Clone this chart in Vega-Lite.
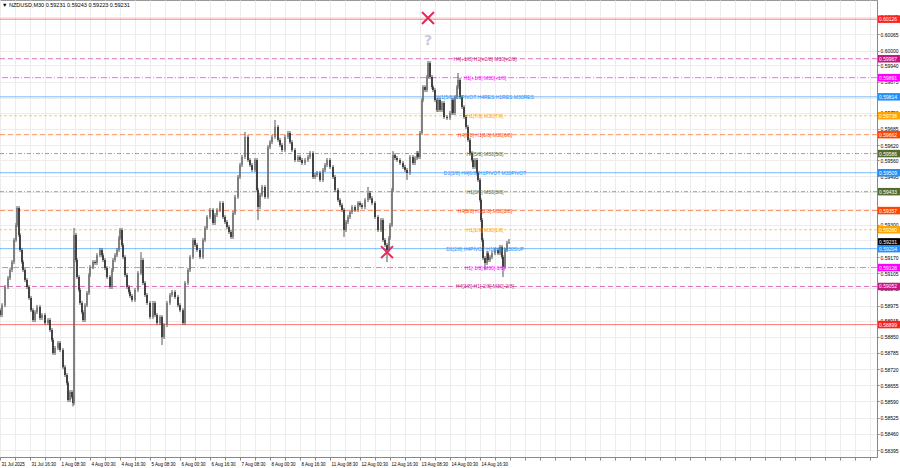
{
"$schema":"https://vega.github.io/schema/vega-lite/v6.json",
"width":877,"height":457,"autosize":"none",
"padding":{"left":0,"top":0,"right":23,"bottom":11},
"background":"white",
"config":{"view":{"stroke":"#999","strokeWidth":1},"font":"Liberation Sans"},
"title":{"text":"▼ NZDUSD,M30  0.59231 0.59243 0.59223 0.59231","anchor":"start","frame":"group","orient":"top","offset":-8,"dx":2,"fontSize":5.5,"fontWeight":"normal","font":"Liberation Sans","color":"#000"},
"datasets":{
"levels":[
{"p":0.60126,"grp":"ext","txt":""},
{"p":0.59967,"grp":"m2","txt":"H4[+1/8] H1[+2/8] M30[+2/8]"},
{"p":0.59891,"grp":"m1","txt":"H1[+1/8] M30[+1/8]"},
{"p":0.59814,"grp":"piv","txt":"W1[5/8] D1PIVOT H4RES H1RES M30RES"},
{"p":0.59738,"grp":"o","txt":"H1[7/8] M30[7/8]"},
{"p":0.59662,"grp":"r","txt":"H4[7/8] H1[6/8] M30[6/8]"},
{"p":0.59586,"grp":"g","txt":"H1[5/8] M30[5/8]"},
{"p":0.59509,"grp":"piv","txt":"D1[3/8] H4[6/8] H1PIVOT M30PIVOT"},
{"p":0.59433,"grp":"g","txt":"H1[3/8] M30[3/8]"},
{"p":0.59357,"grp":"r","txt":"H4[5/8] H1[2/8] M30[2/8]"},
{"p":0.59280,"grp":"o","txt":"H1[1/8] M30[1/8]"},
{"p":0.59204,"grp":"piv","txt":"D1[2/8] H4PIVOT H1[0/8] M30SUP"},
{"p":0.59128,"grp":"m1","txt":"H1[-1/8] M30[-1/8]"},
{"p":0.59052,"grp":"m2","txt":"H4[3/8] H1[-2/8] M30[-2/8]"},
{"p":0.58899,"grp":"ext","txt":""}
],
"tags":[
{"p":0.60126,"grp":"ext"},{"p":0.59967,"grp":"m2"},{"p":0.59891,"grp":"m1"},{"p":0.59814,"grp":"piv"},
{"p":0.59738,"grp":"o"},{"p":0.59662,"grp":"r"},{"p":0.59586,"grp":"g"},{"p":0.59509,"grp":"piv"},
{"p":0.59433,"grp":"g"},{"p":0.59357,"grp":"r"},{"p":0.59280,"grp":"o"},{"p":0.59231,"grp":"cur"},
{"p":0.59204,"grp":"piv"},{"p":0.59128,"grp":"m1"},{"p":0.59052,"grp":"m2"},{"p":0.58899,"grp":"ext"}
],
"marks":[{"t":428,"p":0.60131},{"t":387,"p":0.59190}],
"qmark":[{"t":428,"p":0.60038,"k":"?"}],
"candles":[
{"t":0,"o":0.58957,"h":0.58965,"l":0.58929,"c":0.58937},
{"t":2,"o":0.58937,"h":0.58985,"l":0.58929,"c":0.58977},
{"t":5,"o":0.58977,"h":0.59058,"l":0.58969,"c":0.59050},
{"t":8,"o":0.59050,"h":0.59094,"l":0.59042,"c":0.59086},
{"t":10,"o":0.59086,"h":0.59126,"l":0.59078,"c":0.59118},
{"t":12,"o":0.59118,"h":0.59158,"l":0.59110,"c":0.59150},
{"t":14,"o":0.59150,"h":0.59247,"l":0.59142,"c":0.59239},
{"t":16,"o":0.59239,"h":0.59307,"l":0.59231,"c":0.59299},
{"t":17,"o":0.59299,"h":0.59375,"l":0.59291,"c":0.59367},
{"t":19,"o":0.59367,"h":0.59375,"l":0.59251,"c":0.59259},
{"t":20,"o":0.59259,"h":0.59267,"l":0.59191,"c":0.59199},
{"t":22,"o":0.59199,"h":0.59207,"l":0.59142,"c":0.59150},
{"t":23,"o":0.59150,"h":0.59158,"l":0.59110,"c":0.59118},
{"t":25,"o":0.59118,"h":0.59126,"l":0.59070,"c":0.59078},
{"t":27,"o":0.59078,"h":0.59086,"l":0.59042,"c":0.59050},
{"t":29,"o":0.59050,"h":0.59058,"l":0.58998,"c":0.59006},
{"t":31,"o":0.59006,"h":0.59014,"l":0.58949,"c":0.58957},
{"t":33,"o":0.58957,"h":0.58965,"l":0.58909,"c":0.58917},
{"t":35,"o":0.58917,"h":0.58957,"l":0.58909,"c":0.58949},
{"t":37,"o":0.58949,"h":0.58978,"l":0.58941,"c":0.58970},
{"t":40,"o":0.58970,"h":0.58978,"l":0.58917,"c":0.58925},
{"t":42,"o":0.58925,"h":0.58945,"l":0.58917,"c":0.58937},
{"t":45,"o":0.58937,"h":0.58945,"l":0.58897,"c":0.58905},
{"t":48,"o":0.58905,"h":0.58925,"l":0.58897,"c":0.58917},
{"t":50,"o":0.58917,"h":0.58925,"l":0.58869,"c":0.58877},
{"t":52,"o":0.58877,"h":0.58885,"l":0.58829,"c":0.58837},
{"t":53,"o":0.58837,"h":0.58845,"l":0.58777,"c":0.58785},
{"t":55,"o":0.58785,"h":0.58813,"l":0.58777,"c":0.58805},
{"t":58,"o":0.58805,"h":0.58833,"l":0.58797,"c":0.58825},
{"t":60,"o":0.58825,"h":0.58833,"l":0.58789,"c":0.58797},
{"t":63,"o":0.58797,"h":0.58805,"l":0.58720,"c":0.58728},
{"t":65,"o":0.58728,"h":0.58736,"l":0.58688,"c":0.58696},
{"t":67,"o":0.58696,"h":0.58704,"l":0.58656,"c":0.58664},
{"t":68,"o":0.58664,"h":0.58672,"l":0.58588,"c":0.58596},
{"t":70,"o":0.58596,"h":0.58636,"l":0.58588,"c":0.58628},
{"t":72,"o":0.58628,"h":0.58636,"l":0.58600,"c":0.58608},
{"t":73,"o":0.58608,"h":0.58616,"l":0.58570,"c":0.58584},
{"t":74,"o":0.58584,"h":0.59287,"l":0.58576,"c":0.59259},
{"t":76,"o":0.59259,"h":0.59267,"l":0.59150,"c":0.59158},
{"t":77,"o":0.59158,"h":0.59166,"l":0.59082,"c":0.59090},
{"t":79,"o":0.59090,"h":0.59098,"l":0.59030,"c":0.59038},
{"t":80,"o":0.59038,"h":0.59046,"l":0.58978,"c":0.58986},
{"t":82,"o":0.58986,"h":0.58994,"l":0.58941,"c":0.58949},
{"t":83,"o":0.58949,"h":0.58957,"l":0.58909,"c":0.58917},
{"t":85,"o":0.58917,"h":0.58985,"l":0.58909,"c":0.58977},
{"t":87,"o":0.58977,"h":0.59034,"l":0.58969,"c":0.59026},
{"t":89,"o":0.59026,"h":0.59106,"l":0.59018,"c":0.59098},
{"t":90,"o":0.59098,"h":0.59138,"l":0.59090,"c":0.59130},
{"t":93,"o":0.59130,"h":0.59158,"l":0.59122,"c":0.59150},
{"t":95,"o":0.59150,"h":0.59158,"l":0.59138,"c":0.59146},
{"t":97,"o":0.59146,"h":0.59186,"l":0.59138,"c":0.59178},
{"t":100,"o":0.59178,"h":0.59207,"l":0.59170,"c":0.59199},
{"t":102,"o":0.59199,"h":0.59207,"l":0.59170,"c":0.59178},
{"t":103,"o":0.59178,"h":0.59186,"l":0.59150,"c":0.59158},
{"t":105,"o":0.59158,"h":0.59166,"l":0.59118,"c":0.59126},
{"t":107,"o":0.59126,"h":0.59134,"l":0.59082,"c":0.59090},
{"t":110,"o":0.59090,"h":0.59098,"l":0.59042,"c":0.59050},
{"t":112,"o":0.59050,"h":0.59126,"l":0.59042,"c":0.59118},
{"t":113,"o":0.59118,"h":0.59166,"l":0.59110,"c":0.59158},
{"t":115,"o":0.59158,"h":0.59186,"l":0.59150,"c":0.59178},
{"t":117,"o":0.59178,"h":0.59207,"l":0.59170,"c":0.59199},
{"t":119,"o":0.59199,"h":0.59255,"l":0.59191,"c":0.59247},
{"t":120,"o":0.59247,"h":0.59287,"l":0.59239,"c":0.59279},
{"t":122,"o":0.59279,"h":0.59287,"l":0.59211,"c":0.59219},
{"t":123,"o":0.59219,"h":0.59227,"l":0.59162,"c":0.59170},
{"t":125,"o":0.59170,"h":0.59178,"l":0.59090,"c":0.59098},
{"t":127,"o":0.59098,"h":0.59106,"l":0.59042,"c":0.59050},
{"t":129,"o":0.59050,"h":0.59058,"l":0.59022,"c":0.59030},
{"t":130,"o":0.59030,"h":0.59038,"l":0.59006,"c":0.59014},
{"t":132,"o":0.59014,"h":0.59022,"l":0.58990,"c":0.58998},
{"t":135,"o":0.58998,"h":0.59046,"l":0.58990,"c":0.59038},
{"t":138,"o":0.59038,"h":0.59114,"l":0.59030,"c":0.59106},
{"t":141,"o":0.59106,"h":0.59190,"l":0.59098,"c":0.59158},
{"t":143,"o":0.59158,"h":0.59166,"l":0.59058,"c":0.59066},
{"t":145,"o":0.59066,"h":0.59074,"l":0.59010,"c":0.59018},
{"t":147,"o":0.59018,"h":0.59026,"l":0.58978,"c":0.58986},
{"t":150,"o":0.58986,"h":0.58994,"l":0.58921,"c":0.58929},
{"t":153,"o":0.58929,"h":0.58994,"l":0.58921,"c":0.58986},
{"t":155,"o":0.58986,"h":0.58994,"l":0.58929,"c":0.58937},
{"t":157,"o":0.58937,"h":0.58945,"l":0.58897,"c":0.58905},
{"t":160,"o":0.58905,"h":0.58937,"l":0.58897,"c":0.58929},
{"t":162,"o":0.58929,"h":0.58937,"l":0.58817,"c":0.58849},
{"t":164,"o":0.58849,"h":0.58905,"l":0.58841,"c":0.58897},
{"t":167,"o":0.58897,"h":0.58994,"l":0.58889,"c":0.58986},
{"t":170,"o":0.58986,"h":0.59026,"l":0.58978,"c":0.59018},
{"t":172,"o":0.59018,"h":0.59038,"l":0.59010,"c":0.59030},
{"t":175,"o":0.59030,"h":0.59038,"l":0.59002,"c":0.59010},
{"t":178,"o":0.59010,"h":0.59018,"l":0.58969,"c":0.58977},
{"t":180,"o":0.58977,"h":0.58985,"l":0.58949,"c":0.58957},
{"t":183,"o":0.58957,"h":0.58965,"l":0.58897,"c":0.58905},
{"t":185,"o":0.58905,"h":0.59074,"l":0.58897,"c":0.59066},
{"t":188,"o":0.59066,"h":0.59126,"l":0.59058,"c":0.59118},
{"t":190,"o":0.59118,"h":0.59178,"l":0.59110,"c":0.59170},
{"t":193,"o":0.59170,"h":0.59247,"l":0.59162,"c":0.59239},
{"t":195,"o":0.59239,"h":0.59247,"l":0.59211,"c":0.59219},
{"t":197,"o":0.59219,"h":0.59227,"l":0.59191,"c":0.59199},
{"t":200,"o":0.59199,"h":0.59207,"l":0.59162,"c":0.59170},
{"t":203,"o":0.59170,"h":0.59247,"l":0.59162,"c":0.59239},
{"t":205,"o":0.59239,"h":0.59295,"l":0.59231,"c":0.59287},
{"t":207,"o":0.59287,"h":0.59339,"l":0.59279,"c":0.59331},
{"t":210,"o":0.59331,"h":0.59367,"l":0.59323,"c":0.59359},
{"t":213,"o":0.59359,"h":0.59367,"l":0.59299,"c":0.59307},
{"t":215,"o":0.59307,"h":0.59347,"l":0.59299,"c":0.59339},
{"t":217,"o":0.59339,"h":0.59367,"l":0.59331,"c":0.59359},
{"t":220,"o":0.59359,"h":0.59395,"l":0.59351,"c":0.59387},
{"t":223,"o":0.59387,"h":0.59395,"l":0.59323,"c":0.59331},
{"t":225,"o":0.59331,"h":0.59339,"l":0.59303,"c":0.59311},
{"t":227,"o":0.59311,"h":0.59319,"l":0.59283,"c":0.59291},
{"t":229,"o":0.59291,"h":0.59299,"l":0.59263,"c":0.59271},
{"t":231,"o":0.59271,"h":0.59279,"l":0.59243,"c":0.59251},
{"t":233,"o":0.59251,"h":0.59355,"l":0.59243,"c":0.59347},
{"t":235,"o":0.59347,"h":0.59420,"l":0.59339,"c":0.59412},
{"t":238,"o":0.59412,"h":0.59500,"l":0.59404,"c":0.59492},
{"t":240,"o":0.59492,"h":0.59548,"l":0.59484,"c":0.59540},
{"t":242,"o":0.59540,"h":0.59580,"l":0.59532,"c":0.59572},
{"t":245,"o":0.59572,"h":0.59673,"l":0.59564,"c":0.59653},
{"t":248,"o":0.59653,"h":0.59661,"l":0.59552,"c":0.59560},
{"t":250,"o":0.59560,"h":0.59568,"l":0.59532,"c":0.59540},
{"t":252,"o":0.59540,"h":0.59548,"l":0.59512,"c":0.59520},
{"t":255,"o":0.59520,"h":0.59568,"l":0.59512,"c":0.59560},
{"t":257,"o":0.59560,"h":0.59568,"l":0.59432,"c":0.59440},
{"t":258,"o":0.59440,"h":0.59448,"l":0.59319,"c":0.59371},
{"t":260,"o":0.59371,"h":0.59428,"l":0.59363,"c":0.59420},
{"t":262,"o":0.59420,"h":0.59460,"l":0.59412,"c":0.59452},
{"t":265,"o":0.59452,"h":0.59460,"l":0.59404,"c":0.59412},
{"t":268,"o":0.59412,"h":0.59620,"l":0.59404,"c":0.59612},
{"t":270,"o":0.59612,"h":0.59640,"l":0.59604,"c":0.59632},
{"t":272,"o":0.59632,"h":0.59661,"l":0.59624,"c":0.59653},
{"t":275,"o":0.59653,"h":0.59721,"l":0.59645,"c":0.59693},
{"t":278,"o":0.59693,"h":0.59701,"l":0.59633,"c":0.59641},
{"t":280,"o":0.59641,"h":0.59649,"l":0.59612,"c":0.59620},
{"t":282,"o":0.59620,"h":0.59628,"l":0.59592,"c":0.59600},
{"t":285,"o":0.59600,"h":0.59661,"l":0.59592,"c":0.59653},
{"t":288,"o":0.59653,"h":0.59677,"l":0.59645,"c":0.59669},
{"t":290,"o":0.59669,"h":0.59677,"l":0.59624,"c":0.59632},
{"t":292,"o":0.59632,"h":0.59640,"l":0.59592,"c":0.59600},
{"t":295,"o":0.59600,"h":0.59608,"l":0.59552,"c":0.59560},
{"t":298,"o":0.59560,"h":0.59580,"l":0.59552,"c":0.59572},
{"t":300,"o":0.59572,"h":0.59580,"l":0.59552,"c":0.59560},
{"t":302,"o":0.59560,"h":0.59568,"l":0.59540,"c":0.59548},
{"t":305,"o":0.59548,"h":0.59568,"l":0.59540,"c":0.59560},
{"t":308,"o":0.59560,"h":0.59580,"l":0.59552,"c":0.59572},
{"t":310,"o":0.59572,"h":0.59596,"l":0.59564,"c":0.59588},
{"t":313,"o":0.59588,"h":0.59596,"l":0.59484,"c":0.59492},
{"t":315,"o":0.59492,"h":0.59508,"l":0.59484,"c":0.59500},
{"t":317,"o":0.59500,"h":0.59516,"l":0.59492,"c":0.59508},
{"t":320,"o":0.59508,"h":0.59516,"l":0.59472,"c":0.59480},
{"t":323,"o":0.59480,"h":0.59528,"l":0.59472,"c":0.59520},
{"t":325,"o":0.59520,"h":0.59548,"l":0.59512,"c":0.59540},
{"t":327,"o":0.59540,"h":0.59568,"l":0.59532,"c":0.59560},
{"t":330,"o":0.59560,"h":0.59568,"l":0.59524,"c":0.59532},
{"t":333,"o":0.59532,"h":0.59540,"l":0.59484,"c":0.59492},
{"t":335,"o":0.59492,"h":0.59500,"l":0.59432,"c":0.59440},
{"t":338,"o":0.59440,"h":0.59448,"l":0.59391,"c":0.59399},
{"t":340,"o":0.59399,"h":0.59407,"l":0.59371,"c":0.59379},
{"t":342,"o":0.59379,"h":0.59387,"l":0.59351,"c":0.59359},
{"t":344,"o":0.59359,"h":0.59367,"l":0.59251,"c":0.59279},
{"t":346,"o":0.59279,"h":0.59319,"l":0.59271,"c":0.59311},
{"t":348,"o":0.59311,"h":0.59339,"l":0.59303,"c":0.59331},
{"t":350,"o":0.59331,"h":0.59359,"l":0.59323,"c":0.59351},
{"t":352,"o":0.59351,"h":0.59379,"l":0.59343,"c":0.59371},
{"t":355,"o":0.59371,"h":0.59379,"l":0.59351,"c":0.59359},
{"t":358,"o":0.59359,"h":0.59395,"l":0.59351,"c":0.59387},
{"t":360,"o":0.59387,"h":0.59395,"l":0.59371,"c":0.59379},
{"t":362,"o":0.59379,"h":0.59387,"l":0.59363,"c":0.59371},
{"t":365,"o":0.59371,"h":0.59407,"l":0.59363,"c":0.59399},
{"t":368,"o":0.59399,"h":0.59452,"l":0.59391,"c":0.59428},
{"t":370,"o":0.59428,"h":0.59436,"l":0.59399,"c":0.59407},
{"t":372,"o":0.59407,"h":0.59415,"l":0.59379,"c":0.59387},
{"t":375,"o":0.59387,"h":0.59395,"l":0.59323,"c":0.59331},
{"t":378,"o":0.59331,"h":0.59339,"l":0.59271,"c":0.59279},
{"t":381,"o":0.59279,"h":0.59327,"l":0.59271,"c":0.59319},
{"t":383,"o":0.59319,"h":0.59327,"l":0.59231,"c":0.59239},
{"t":385,"o":0.59239,"h":0.59247,"l":0.59211,"c":0.59219},
{"t":387,"o":0.59219,"h":0.59227,"l":0.59150,"c":0.59199},
{"t":389,"o":0.59199,"h":0.59255,"l":0.59191,"c":0.59247},
{"t":390,"o":0.59247,"h":0.59307,"l":0.59239,"c":0.59299},
{"t":392,"o":0.59299,"h":0.59448,"l":0.59291,"c":0.59440},
{"t":393,"o":0.59440,"h":0.59596,"l":0.59432,"c":0.59580},
{"t":395,"o":0.59580,"h":0.59588,"l":0.59560,"c":0.59568},
{"t":397,"o":0.59568,"h":0.59576,"l":0.59552,"c":0.59560},
{"t":400,"o":0.59560,"h":0.59568,"l":0.59540,"c":0.59548},
{"t":403,"o":0.59548,"h":0.59556,"l":0.59524,"c":0.59532},
{"t":405,"o":0.59532,"h":0.59540,"l":0.59512,"c":0.59520},
{"t":407,"o":0.59520,"h":0.59528,"l":0.59480,"c":0.59508},
{"t":410,"o":0.59508,"h":0.59580,"l":0.59500,"c":0.59572},
{"t":413,"o":0.59572,"h":0.59580,"l":0.59540,"c":0.59548},
{"t":415,"o":0.59548,"h":0.59576,"l":0.59540,"c":0.59568},
{"t":417,"o":0.59568,"h":0.59596,"l":0.59560,"c":0.59588},
{"t":418,"o":0.59588,"h":0.59596,"l":0.59564,"c":0.59572},
{"t":420,"o":0.59572,"h":0.59677,"l":0.59564,"c":0.59669},
{"t":422,"o":0.59669,"h":0.59809,"l":0.59661,"c":0.59801},
{"t":423,"o":0.59801,"h":0.59861,"l":0.59793,"c":0.59853},
{"t":425,"o":0.59853,"h":0.59861,"l":0.59833,"c":0.59841},
{"t":427,"o":0.59841,"h":0.59902,"l":0.59833,"c":0.59894},
{"t":428,"o":0.59894,"h":0.59958,"l":0.59886,"c":0.59950},
{"t":430,"o":0.59950,"h":0.59958,"l":0.59886,"c":0.59894},
{"t":432,"o":0.59894,"h":0.59902,"l":0.59845,"c":0.59853},
{"t":433,"o":0.59853,"h":0.59861,"l":0.59833,"c":0.59841},
{"t":435,"o":0.59841,"h":0.59849,"l":0.59793,"c":0.59801},
{"t":437,"o":0.59801,"h":0.59809,"l":0.59753,"c":0.59761},
{"t":438,"o":0.59761,"h":0.59809,"l":0.59753,"c":0.59801},
{"t":440,"o":0.59801,"h":0.59809,"l":0.59753,"c":0.59761},
{"t":442,"o":0.59761,"h":0.59797,"l":0.59753,"c":0.59789},
{"t":444,"o":0.59789,"h":0.59797,"l":0.59725,"c":0.59733},
{"t":447,"o":0.59733,"h":0.59741,"l":0.59721,"c":0.59729},
{"t":450,"o":0.59729,"h":0.59757,"l":0.59721,"c":0.59749},
{"t":452,"o":0.59749,"h":0.59809,"l":0.59741,"c":0.59801},
{"t":453,"o":0.59801,"h":0.59809,"l":0.59741,"c":0.59749},
{"t":455,"o":0.59749,"h":0.59821,"l":0.59741,"c":0.59813},
{"t":457,"o":0.59813,"h":0.59861,"l":0.59805,"c":0.59853},
{"t":458,"o":0.59853,"h":0.59910,"l":0.59845,"c":0.59882},
{"t":460,"o":0.59882,"h":0.59890,"l":0.59805,"c":0.59813},
{"t":462,"o":0.59813,"h":0.59821,"l":0.59765,"c":0.59773},
{"t":464,"o":0.59773,"h":0.59781,"l":0.59725,"c":0.59733},
{"t":466,"o":0.59733,"h":0.59741,"l":0.59685,"c":0.59693},
{"t":468,"o":0.59693,"h":0.59701,"l":0.59633,"c":0.59641},
{"t":470,"o":0.59641,"h":0.59649,"l":0.59580,"c":0.59588},
{"t":472,"o":0.59588,"h":0.59596,"l":0.59552,"c":0.59560},
{"t":473,"o":0.59560,"h":0.59568,"l":0.59524,"c":0.59532},
{"t":475,"o":0.59532,"h":0.59568,"l":0.59524,"c":0.59560},
{"t":477,"o":0.59560,"h":0.59568,"l":0.59500,"c":0.59508},
{"t":478,"o":0.59508,"h":0.59516,"l":0.59472,"c":0.59480},
{"t":480,"o":0.59480,"h":0.59488,"l":0.59391,"c":0.59399},
{"t":481,"o":0.59399,"h":0.59407,"l":0.59311,"c":0.59319},
{"t":482,"o":0.59319,"h":0.59327,"l":0.59231,"c":0.59239},
{"t":483,"o":0.59239,"h":0.59247,"l":0.59158,"c":0.59166},
{"t":485,"o":0.59166,"h":0.59174,"l":0.59118,"c":0.59146},
{"t":487,"o":0.59146,"h":0.59194,"l":0.59138,"c":0.59186},
{"t":488,"o":0.59186,"h":0.59194,"l":0.59150,"c":0.59158},
{"t":490,"o":0.59158,"h":0.59178,"l":0.59150,"c":0.59170},
{"t":492,"o":0.59170,"h":0.59194,"l":0.59162,"c":0.59186},
{"t":495,"o":0.59186,"h":0.59207,"l":0.59178,"c":0.59199},
{"t":498,"o":0.59199,"h":0.59207,"l":0.59178,"c":0.59186},
{"t":500,"o":0.59186,"h":0.59219,"l":0.59178,"c":0.59211},
{"t":502,"o":0.59211,"h":0.59219,"l":0.59162,"c":0.59170},
{"t":503,"o":0.59170,"h":0.59178,"l":0.59090,"c":0.59130},
{"t":505,"o":0.59130,"h":0.59207,"l":0.59122,"c":0.59199},
{"t":507,"o":0.59199,"h":0.59235,"l":0.59191,"c":0.59227},
{"t":509,"o":0.59227,"h":0.59243,"l":0.59223,"c":0.59231}
]
},
"layer":[
{"data":{"name":"candles"},
 "mark":{"type":"rule","strokeWidth":1,"color":"#555","opacity":0},
 "encoding":{
  "x":{"field":"t","type":"quantitative","title":null,"scale":{"domain":[0,877],"nice":false,"zero":false},
   "axis":{"values":[0,15,30,45,60,75,90,105,120,135,150,165,180,195,210,225,240,255,270,285,300,315,330,345,360,375,390,405,420,435,450,465,480,495,510,525,540,555,570,585,600,615,630,645,660,675,690,705,720,735,750,765,780,795,810,825,840,855,870],
    "tickCount":1000,
    "labelExpr":"(datum.value % 30 == 0 && datum.value <= 480) ? ['31 Jul 2025','31 Jul 16:30','1 Aug 08:30','4 Aug 00:30','4 Aug 16:30','5 Aug 08:30','6 Aug 00:30','6 Aug 16:30','7 Aug 08:30','8 Aug 00:30','8 Aug 16:30','11 Aug 08:30','12 Aug 00:30','12 Aug 16:30','13 Aug 08:30','14 Aug 00:30','14 Aug 16:30'][datum.value/30] : ''",
    "title":null,"labelAlign":"left","labelFontSize":4.5,"labelFont":"Liberation Sans","labelColor":"#000","labelPadding":1,"labelOffset":1,"tickSize":3,"tickColor":"#888","domainColor":"#888","grid":true,"gridColor":"#ececec","labelOverlap":false,"labelFlush":false,"labelBound":false}},
  "y":{"field":"l","type":"quantitative","title":null,"scale":{"domain":[0.58367,0.60203],"nice":false,"zero":false},
   "axis":{"orient":"right","values":[0.60135,0.60065,0.60000,0.59940,0.59875,0.59810,0.59750,0.59685,0.59620,0.59560,0.59495,0.59430,0.59365,0.59300,0.59240,0.59170,0.59105,0.59045,0.58975,0.58915,0.58850,0.58785,0.58720,0.58655,0.58590,0.58525,0.58460,0.58395],
    "tickCount":1000,
    "format":".5f","title":null,"labelFontSize":5,"labelFont":"Liberation Sans","labelColor":"#000","labelPadding":1,"tickSize":2,"tickColor":"#888","domainColor":"#888","grid":true,"gridColor":"#ececec","labelOverlap":false,"labelFlush":false,"labelBound":false}},
  "y2":{"field":"h"}
 }},
{"data":{"name":"levels"},
 "mark":{"type":"rule","strokeWidth":1,"opacity":0.6},
 "encoding":{
  "y":{"field":"p","type":"quantitative","title":null},
  "color":{"field":"grp","type":"nominal","legend":null,
   "scale":{"domain":["ext","m2","m1","piv","o","r","g","cur"],"range":["#ff2020","#c71585","#ff00ff","#1e90ff","#ffa500","#ff4500","#556b2f","#000000"]}},
  "strokeDash":{"field":"grp","type":"nominal","legend":null,
   "scale":{"domain":["ext","m2","m1","piv","o","r","g"],"range":[[1,0],[5,3],[6,2,1,2],[1,0],[3,2],[5,3],[4,2,1,2]]}}
 }},
{"data":{"name":"candles"},
 "mark":{"type":"rule","strokeWidth":1,"color":"#555"},
 "encoding":{
  "x":{"field":"t","type":"quantitative","title":null},
  "y":{"field":"l","type":"quantitative","title":null},
  "y2":{"field":"h"}
 }},
{"data":{"name":"candles"},
 "mark":{"type":"rule","strokeWidth":1.6,"strokeCap":"butt"},
 "encoding":{
  "x":{"field":"t","type":"quantitative","title":null},
  "y":{"field":"o","type":"quantitative","title":null},
  "y2":{"field":"c"},
  "color":{"condition":{"test":"datum.c >= datum.o","value":"#777777"},"value":"#2a2a2a"}
 }},
{"data":{"name":"levels"},
 "transform":[{"filter":"datum.txt != ''"}],
 "mark":{"type":"text","fontSize":5,"font":"Liberation Sans","align":"center","baseline":"middle"},
 "encoding":{
  "x":{"datum":485,"type":"quantitative","title":null},
  "y":{"field":"p","type":"quantitative","title":null},
  "text":{"field":"txt"},
  "color":{"field":"grp","type":"nominal","legend":null}
 }},
{"data":{"name":"tags"},
 "mark":{"type":"tick","orient":"vertical","thickness":23,"size":7.5,"opacity":1},
 "encoding":{
  "x":{"datum":889.5,"type":"quantitative","title":null},
  "y":{"field":"p","type":"quantitative","title":null},
  "color":{"field":"grp","type":"nominal","legend":null}
 }},
{"data":{"name":"tags"},
 "mark":{"type":"text","fontSize":5,"font":"Liberation Sans","align":"left","baseline":"middle","color":"#ffffff"},
 "encoding":{
  "x":{"datum":879,"type":"quantitative","title":null},
  "y":{"field":"p","type":"quantitative","title":null},
  "text":{"field":"p","type":"quantitative","format":".5f"}
 }},
{"data":{"name":"marks"},
 "mark":{"type":"point","shape":"M-1,-1L1,1M1,-1L-1,1","size":144,"strokeWidth":2,"filled":false,"color":"#e8285a","opacity":1},
 "encoding":{
  "x":{"field":"t","type":"quantitative","title":null},
  "y":{"field":"p","type":"quantitative","title":null}
 }},
{"data":{"name":"qmark"},
 "mark":{"type":"text","fontSize":14,"fontWeight":"bold","font":"DejaVu Sans","color":"#cbc8e0","align":"center","baseline":"middle"},
 "encoding":{
  "x":{"field":"t","type":"quantitative","title":null},
  "y":{"field":"p","type":"quantitative","title":null},
  "text":{"field":"k"}
 }}
]
}
